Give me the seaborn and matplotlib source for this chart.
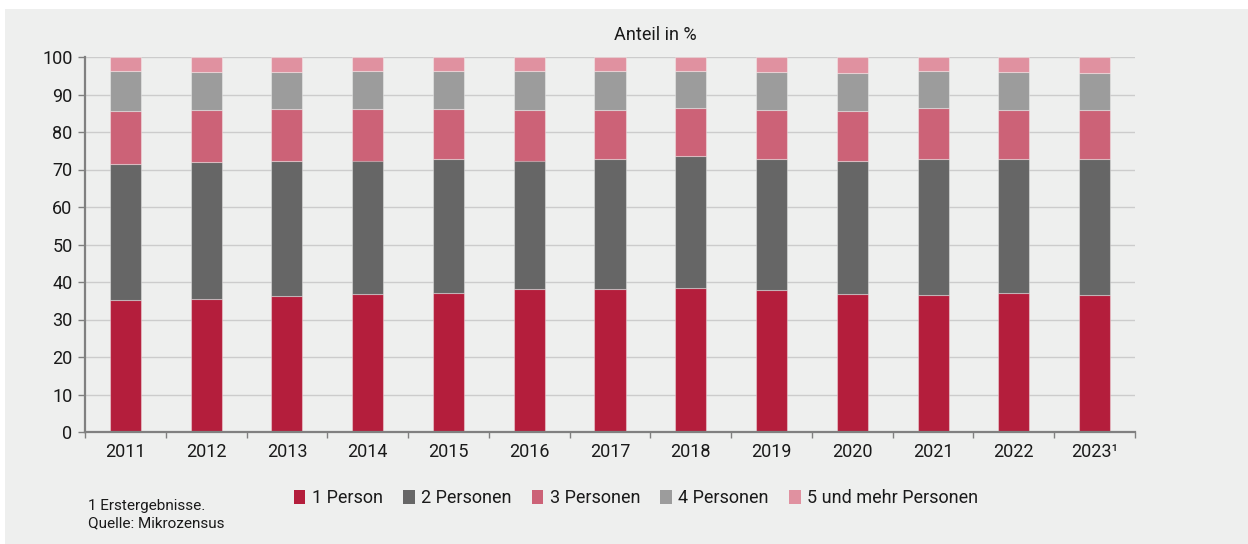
import numpy as np
import pandas as pd
import matplotlib
matplotlib.use("Agg")
import matplotlib.pyplot as plt
import seaborn as sns
from matplotlib.patches import Rectangle, Patch

years = ["2011", "2012", "2013", "2014", "2015", "2016", "2017",
         "2018", "2019", "2020", "2021", "2022", "2023¹"]
p1 = [35.3, 35.6, 36.4, 36.8, 37.2, 38.1, 38.2, 38.5, 38.0, 36.7, 36.5, 37.2, 36.6]
p2 = [36.3, 36.4, 35.9, 35.6, 35.5, 34.3, 34.5, 35.0, 34.7, 35.7, 36.2, 35.5, 36.1]
p3 = [13.9, 14.0, 13.9, 13.8, 13.5, 13.6, 13.2, 13.0, 13.3, 13.3, 13.7, 13.3, 13.3]
p4 = [10.8, 10.0, 9.8, 10.1, 10.1, 10.3, 10.3, 9.8, 10.0, 10.1, 9.9, 10.0, 9.8]
p5 = [3.7, 4.0, 4.0, 3.7, 3.7, 3.7, 3.8, 3.7, 4.0, 4.2, 3.7, 4.0, 4.2]
series_names = ["1 Person", "2 Personen", "3 Personen", "4 Personen", "5 und mehr Personen"]
colors = ["#b41e3c", "#666666", "#cc6277", "#9c9c9c", "#e091a0"]
yticks = [0, 10, 20, 30, 40, 50, 60, 70, 80, 90, 100]

sns.set_style("white")
plt.rcParams["font.family"] = ["Roboto", "DejaVu Sans"]

BG = "#eeefee"
fig = plt.figure(figsize=(12.48, 5.44), dpi=100, facecolor="white")
fig.patches.append(Rectangle((5 / 1248, 0), 1, 1 - 9 / 544, transform=fig.transFigure,
                             facecolor=BG, edgecolor="none", zorder=-10))
ax = fig.add_axes([85 / 1248, 1 - 432 / 544, (1135 - 85) / 1248, (432 - 57) / 544])
ax.set_facecolor("none")

values = [p1, p2, p3, p4, p5]
bottom = np.zeros(len(years))
for name, vals, col in zip(series_names, values, colors):
    df = pd.DataFrame({"year": years, "value": vals})
    sns.barplot(data=df, x="year", y="value", color=col, bottom=bottom,
                width=0.385, ax=ax, edgecolor=(1, 1, 1, 0.35), linewidth=0.8,
                saturation=1, zorder=3)
    bottom = bottom + np.array(vals)

ax.set_xlim(-0.5, len(years) - 0.5)
ax.set_ylim(0, 100)
ax.set_yticks(yticks)
ax.set_xlabel("")
ax.set_ylabel("")
ax.yaxis.grid(True, color="#cccccc", linewidth=1.0, zorder=0)
ax.set_axisbelow(True)
for s in ["top", "right"]:
    ax.spines[s].set_visible(False)
for s in ["left", "bottom"]:
    ax.spines[s].set_color("#808080")
    ax.spines[s].set_linewidth(1.6)
    ax.spines[s].set_zorder(5)

ax.tick_params(axis="y", length=5, width=1, color="#808080", pad=4,
               labelsize=13, labelcolor="#1a1a1a", left=True)
ax.tick_params(axis="x", which="major", length=0, pad=8, labelsize=13, labelcolor="#1a1a1a")
ax.set_xticks(np.arange(-0.5, len(years), 1.0), minor=True)
ax.tick_params(axis="x", which="minor", length=4, width=1, color="#808080", bottom=True)

fig.text(655 / 1248, 1 - 35 / 544, "Anteil in %", ha="center", va="center",
         fontsize=13, color="#1a1a1a")

handles = [Patch(facecolor=c, edgecolor="none") for c in colors]
fig.legend(handles, series_names, loc="center", bbox_to_anchor=(636 / 1248, 1 - 498 / 544),
           ncol=5, frameon=False, fontsize=13, handlelength=0.65, handleheight=0.85,
           handletextpad=0.35, columnspacing=1.12, labelcolor="#1a1a1a")

fig.text(88 / 1248, 1 - 506 / 544, "1 Erstergebnisse.", ha="left", va="center",
         fontsize=11, color="#1a1a1a")
fig.text(88 / 1248, 1 - 523 / 544, "Quelle: Mikrozensus", ha="left", va="center",
         fontsize=11, color="#1a1a1a")

fig.savefig("out.png", dpi=100, facecolor="white")
